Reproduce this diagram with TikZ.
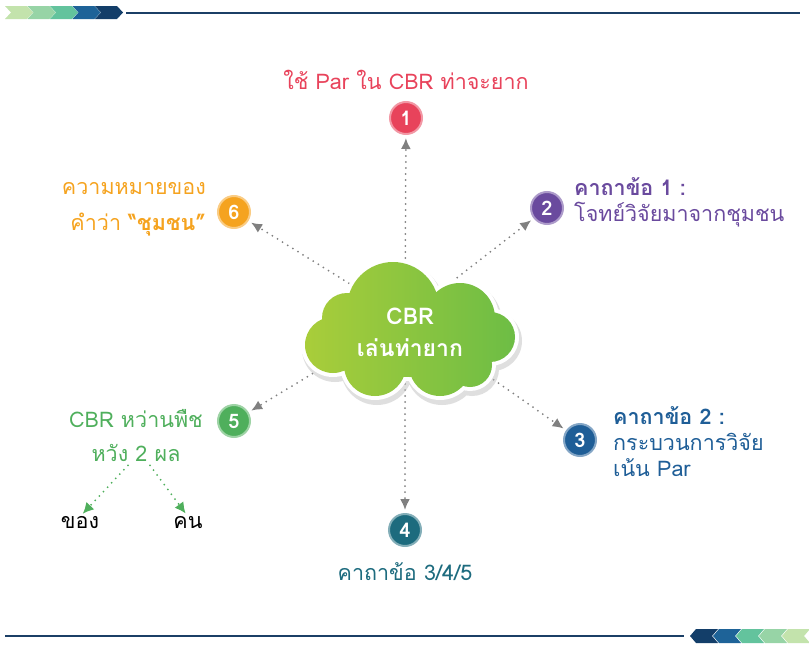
\documentclass[tikz,border=0pt]{standalone}
\usepackage{fontspec}
\newfontfamily\thaifont[Script=Thai]{Loma}
\usetikzlibrary{arrows.meta}
\definecolor{navy}{HTML}{1B3F66}
\definecolor{chevA}{HTML}{C3E3AC}
\definecolor{chevB}{HTML}{97D4A6}
\definecolor{chevC}{HTML}{63C39D}
\definecolor{chevD}{HTML}{1E6398}
\definecolor{chevE}{HTML}{133E69}
\definecolor{redc}{HTML}{E8435B}
\definecolor{purplec}{HTML}{6A4A9E}
\definecolor{bluec}{HTML}{1F5E97}
\definecolor{tealc}{HTML}{1D6B7E}
\definecolor{greenc}{HTML}{4FAF5C}
\definecolor{orangec}{HTML}{F5A31F}
\definecolor{cloudA}{HTML}{A9CD3A}
\definecolor{cloudB}{HTML}{6DBD45}
% puffs of the cloud: x/y/radius
\newcommand{\puffs}{393/308/46, 460/318/35, 490/337/25, 333/345/28, 347/318/25, 375/365/31, 440/365/31, 470/365/22}
\tikzset{
	numdot/.style={circle, fill=#1, draw=#1!55!white, line width=2pt, minimum size=32pt, inner sep=0pt,
		text=white, font=\thaifont\bfseries\fontsize{20}{20}\selectfont},
	lbl/.style={font=\thaifont\fontsize{21.5}{26}\selectfont, inner sep=0pt},
	spoke/.style={draw=gray, line width=2pt, line cap=round, dash pattern=on 0pt off 6pt,
		-{Latex[length=11pt,width=10pt]}, shorten >=3pt},
	twig/.style={draw=greenc, line width=2pt, line cap=round, dash pattern=on 0pt off 6pt,
		-{Latex[length=11pt,width=11pt]}, shorten >=4pt}
}
\begin{document}
\begin{tikzpicture}[x=1pt,y=-1pt]
		\useasboundingbox (0,0) rectangle (809,645);
		% header and footer
		\foreach \c [count=\i from 0] in {chevA,chevB,chevC,chevD,chevE}
			\fill[\c] (5+22.5*\i,6) -- (27+22.5*\i,6) -- (33+22.5*\i,12.5) -- (27+22.5*\i,19) -- (5+22.5*\i,19) -- (11+22.5*\i,12.5) -- cycle;
		\draw[navy, line width=2.5pt] (126,13) -- (800,13);
		\foreach \c [count=\i from 0] in {chevE,chevD,chevC,chevB,chevA}
			\fill[\c] (690+23*\i,636) -- (696+23*\i,629) -- (718+23*\i,629) -- (712+23*\i,636) -- (718+23*\i,643) -- (696+23*\i,643) -- cycle;
		\draw[navy, line width=2.5pt] (5,636) -- (684,636);
		
		% numbered dots
		\coordinate (hub) at (405,318);
		\node[numdot=redc] (c1) at (406,118) {1};
		\node[numdot=purplec] (c2) at (547,208) {2};
		\node[numdot=bluec] (c3) at (580,440) {3};
		\node[numdot=tealc] (c4) at (405,530) {4};
		\node[numdot=greenc] (c5) at (234,421) {5};
		\node[numdot=orangec] (c6) at (234,212) {6};
		
		% spokes
		\foreach \n in {1,...,6}
			\draw[spoke] (hub) -- (c\n);
		
		% cloud
		\fill[black!25, opacity=.5] \foreach \x/\y/\r in \puffs {(\x+2,\y+4) circle[radius=\r+5]};
		\fill[white] \foreach \x/\y/\r in \puffs {(\x,\y) circle[radius=\r+4]} (410,342) ellipse[x radius=79, y radius=39];
		\shade[left color=cloudA, right color=cloudB] \foreach \x/\y/\r in \puffs {(\x,\y) circle[radius=\r]} (410,342) ellipse[x radius=75, y radius=35];
		\node[font=\thaifont\bfseries\fontsize{23}{32}\selectfont, text=white, align=center] (cbr) at (410,332) {CBR\\เล่นท่ายาก};
		
		% labels
		\node[lbl, text=redc] (t1) at (406,80) {ใช้ Par ใน CBR ท่าจะยาก};
		\node[lbl, text=purplec, anchor=west, align=left] (t2) at (574,202) {\bfseries คาถาข้อ 1 :\\โจทย์วิจัยมาจากชุมชน};
		\node[lbl, text=bluec, anchor=west, align=left] (t3) at (613,442) {\bfseries คาถาข้อ 2 :\\กระบวนการวิจัย\\เน้น Par};
		\node[lbl, text=tealc] (t4) at (405,572) {คาถาข้อ 3/4/5};
		\node[lbl, text=greenc, align=center, font=\thaifont\fontsize{21.5}{34}\selectfont] (t5) at (136,436) {CBR หว่านพืช\\หวัง 2 ผล};
		\node[lbl, text=orangec, anchor=east, align=right, font=\thaifont\fontsize{21.5}{36}\selectfont] (t6) at (206,209) {ความหมายของ\\คำว่า {\bfseries “ชุมชน”}};
		
		% two harvests
		\node[lbl] (kong) at (80,523) {ของ};
		\node[lbl] (khon) at (188,523) {คน};
		\draw[twig] ([xshift=-8pt,yshift=-3pt]t5.south) -- (kong.north);
		\draw[twig] ([xshift=14pt,yshift=-3pt]t5.south) -- (khon.north);
\end{tikzpicture}
\end{document}
